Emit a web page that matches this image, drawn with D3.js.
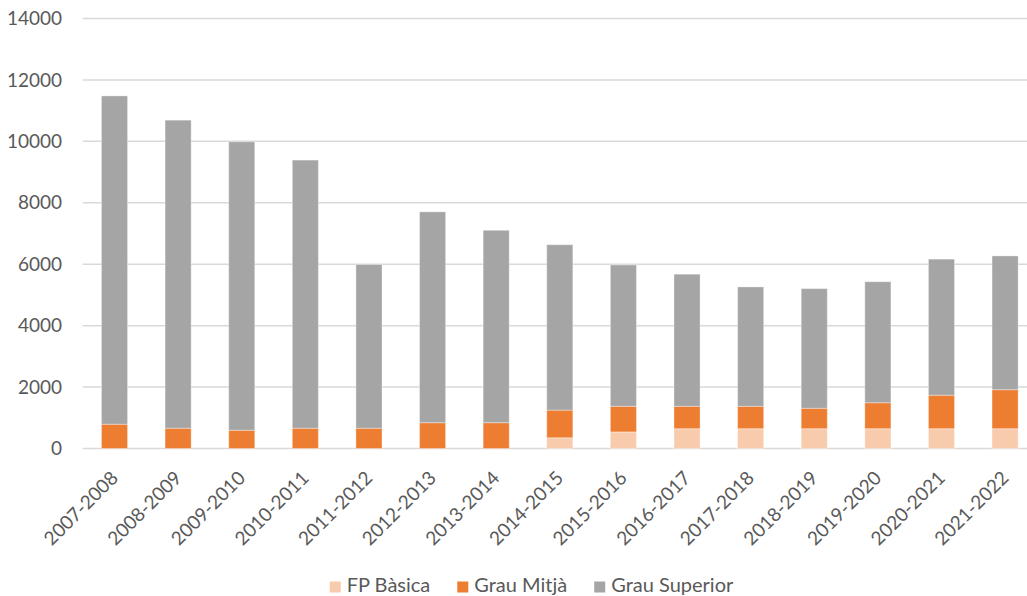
<!DOCTYPE html>
<html>
<head>
<meta charset="utf-8">
<script src="https://cdn.jsdelivr.net/npm/d3@7"></script>
<style>
  body { margin: 0; background: #fff; }
  text { font-family: Lato, "Open Sans", sans-serif; fill: #595959; }
</style>
</head>
<body>
<div id="chart"></div>
<script>
// data
var courses = ["2007-2008", "2008-2009", "2009-2010", "2010-2011", "2011-2012", "2012-2013", "2013-2014",
    "2014-2015", "2015-2016", "2016-2017", "2017-2018", "2018-2019", "2019-2020", "2020-2021", "2021-2022"];
var fpBasica = [0, 0, 0, 0, 0, 0, 0, 350, 540, 645, 645, 645, 645, 645, 645];
var grauMitja = [790, 660, 595, 660, 660, 840, 840, 900, 835, 730, 730, 665, 845, 1090, 1270];
var grauSuperior = [10690, 10030, 9390, 8730, 5330, 6865, 6265, 5385, 4600, 4300, 3885, 3895, 3940, 4430, 4355];
var seriesNames = ["FP Bàsica", "Grau Mitjà", "Grau Superior"];
var seriesColors = ["#F8CBAD", "#ED7D31", "#A5A5A5"];
var yTicks = [0, 2000, 4000, 6000, 8000, 10000, 12000, 14000];

var width = 1027, height = 596;
var plot = { left: 82.7, right: 1036.9, top: 18.5, bottom: 448.5 };

var svg = d3.select("#chart").append("svg")
    .attr("width", width)
    .attr("height", height);

var rows = courses.map(function(c, i) {
    return { course: c, "FP Bàsica": fpBasica[i], "Grau Mitjà": grauMitja[i], "Grau Superior": grauSuperior[i] };
});
var stacked = d3.stack().keys(seriesNames)(rows);

var x = d3.scaleBand()
    .domain(courses)
    .range([plot.left, plot.right])
    .paddingInner(0.59)
    .paddingOuter(0.295);

var y = d3.scaleLinear()
    .domain([0, 14000])
    .range([plot.bottom, plot.top]);

// gridlines
svg.append("g").selectAll("line")
    .data(yTicks).enter()
    .append("line")
        .attr("x1", plot.left)
        .attr("x2", width)
        .attr("y1", function(d) { return y(d); })
        .attr("y2", function(d) { return y(d); })
        .attr("stroke", "#D9D9D9")
        .attr("stroke-width", 1.5);

// y labels (no thousands separator)
var yAxis = svg.append("g")
    .attr("transform", "translate(62 0)")
    .call(d3.axisLeft(y).tickValues(yTicks).tickFormat(d3.format("d")).tickSize(0).tickPadding(0));
yAxis.select(".domain").remove();
yAxis.selectAll("text")
    .attr("font-size", "19px")
    .attr("fill", "#595959")
    .attr("font-family", "Lato, 'Open Sans', sans-serif");

// stacked bars
svg.append("g").selectAll("g")
    .data(stacked).enter()
    .append("g")
        .attr("fill", function(d, i) { return seriesColors[i]; })
    .selectAll("rect")
    .data(function(d) { return d; }).enter()
    .append("rect")
        .attr("x", function(d) { return x(d.data.course); })
        .attr("y", function(d) { return y(d[1]); })
        .attr("width", x.bandwidth())
        .attr("height", function(d) { return y(d[0]) - y(d[1]); })
        .attr("stroke", "#ffffff")
        .attr("stroke-opacity", 0.35)
        .attr("stroke-width", 1);

// x labels, rotated
var xAxis = svg.append("g")
    .attr("transform", "translate(0 " + plot.bottom + ")")
    .call(d3.axisBottom(x).tickSize(0).tickPadding(0));
xAxis.select(".domain").remove();
xAxis.selectAll("text")
    .attr("font-size", "19px")
    .attr("fill", "#595959")
    .attr("font-family", "Lato, 'Open Sans', sans-serif")
    .attr("text-anchor", "end")
    .attr("dy", "0.35em")
    .attr("transform", "translate(0 26) rotate(-45)");

// legend
var legend = svg.append("g");
var lx = 0;
seriesNames.forEach(function(name, i) {
    var item = legend.append("g").attr("transform", "translate(" + lx + " 0)");
    item.append("rect")
        .attr("x", 0).attr("y", -10)
        .attr("width", 11).attr("height", 11)
        .attr("fill", seriesColors[i]);
    var t = item.append("text")
        .attr("x", 17).attr("y", 0)
        .attr("font-size", "20px")
        .text(name);
    lx += 17 + t.node().getComputedTextLength() + 27;
});
lx -= 27;
legend.attr("transform", "translate(" + (531.5 - lx / 2) + " 591.5)");
</script>
</body>
</html>
